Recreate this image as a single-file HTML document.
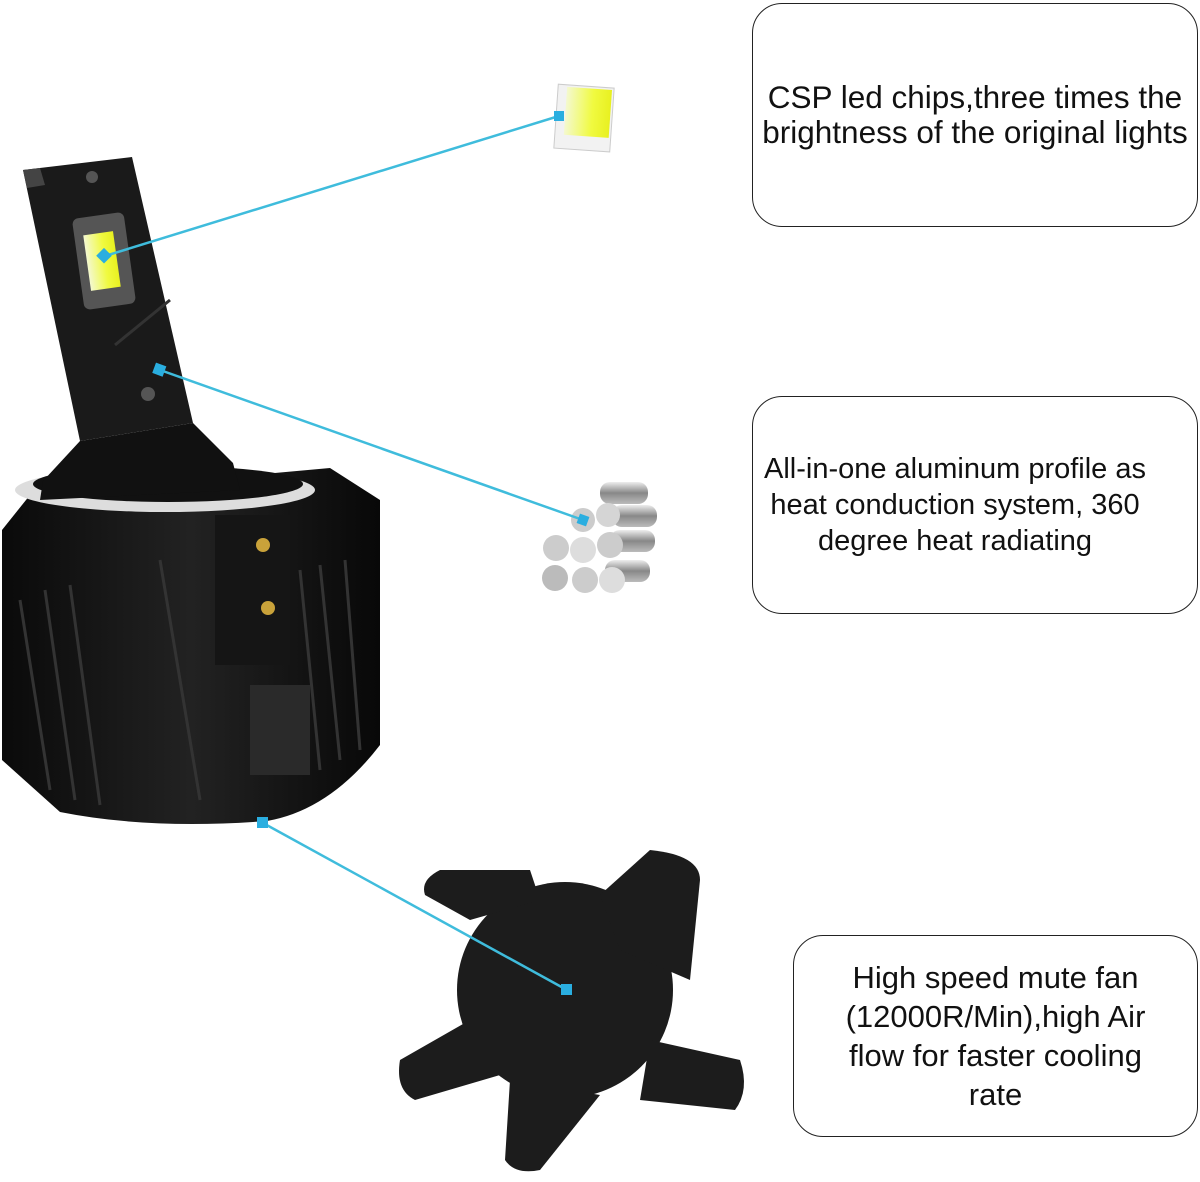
<!DOCTYPE html>
<html><head><style>
html,body{margin:0;padding:0;background:#fff;}
body{width:1200px;height:1182px;position:relative;overflow:hidden;font-family:"Liberation Sans",sans-serif;}
.box{position:absolute;border:1.5px solid #222;border-radius:30px;box-sizing:border-box;display:flex;align-items:center;justify-content:center;text-align:center;color:#111;white-space:nowrap;}
svg{position:absolute;left:0;top:0;}
</style></head><body>
<svg width="1200" height="1182" viewBox="0 0 1200 1182">
<defs>
<linearGradient id="bk" x1="0" x2="1"><stop offset="0" stop-color="#0a0a0a"/><stop offset="0.5" stop-color="#222"/><stop offset="1" stop-color="#080808"/></linearGradient>
<linearGradient id="chip" x1="0" x2="1"><stop offset="0" stop-color="#f4f9d0"/><stop offset="0.6" stop-color="#f0fa40"/><stop offset="1" stop-color="#e8f020"/></linearGradient>
<linearGradient id="rod" x1="0" x2="0" y1="0" y2="1"><stop offset="0" stop-color="#eee"/><stop offset="0.5" stop-color="#888"/><stop offset="1" stop-color="#bbb"/></linearGradient>
</defs>
<path d="M2,530 L30,495 L330,468 L380,500 L380,745 Q330,810 267,821 Q150,830 60,812 L2,760 Z" fill="url(#bk)"/>
<g stroke="#333" stroke-width="3">
<line x1="20" y1="600" x2="50" y2="790"/><line x1="45" y1="590" x2="75" y2="800"/><line x1="70" y1="585" x2="100" y2="805"/>
<line x1="300" y1="570" x2="320" y2="770"/><line x1="320" y1="565" x2="340" y2="760"/><line x1="345" y1="560" x2="360" y2="750"/>
<line x1="160" y1="560" x2="200" y2="800"/>
</g>
<rect x="215" y="515" width="75" height="150" fill="#151515"/>
<rect x="250" y="685" width="60" height="90" fill="#2a2a2a"/>
<circle cx="263" cy="545" r="7" fill="#c9a23a"/><circle cx="268" cy="608" r="7" fill="#c9a23a"/>
<ellipse cx="165" cy="490" rx="150" ry="22" fill="#ddd"/>
<ellipse cx="168" cy="484" rx="135" ry="18" fill="#111"/>
<path d="M43,481 L80,441 L193,423 L233,463 L240,490 L40,500 Z" fill="#111"/>
<path d="M23,170 L132,157 L193,423 L80,441 Z" fill="#1a1a1a"/>
<path d="M23,170 L40,168 L45,185 L27,188 Z" fill="#444"/>
<rect x="78" y="215" width="52" height="92" rx="6" fill="#555" transform="rotate(-8 104 261)"/>
<rect x="87" y="233" width="30" height="56" fill="url(#chip)" transform="rotate(-8 102 261)"/>
<line x1="115" y1="345" x2="170" y2="300" stroke="#333" stroke-width="3"/>
<circle cx="92" cy="177" r="6" fill="#555"/><circle cx="148" cy="394" r="7" fill="#555"/>
<g transform="rotate(4 583 118)"><rect x="556" y="86" width="56" height="64" fill="#f2f2f2" stroke="#ccc"/><rect x="565" y="88" width="45" height="48" fill="url(#chip)"/></g>
<g>
<rect x="600" y="482" width="48" height="22" rx="10" fill="url(#rod)"/>
<rect x="612" y="505" width="45" height="22" rx="10" fill="url(#rod)"/>
<rect x="610" y="530" width="45" height="22" rx="10" fill="url(#rod)"/>
<rect x="605" y="560" width="45" height="22" rx="10" fill="url(#rod)"/>
<circle cx="583" cy="520" r="12" fill="#ccc"/><circle cx="608" cy="515" r="12" fill="#d5d5d5"/>
<circle cx="556" cy="548" r="13" fill="#ccc"/><circle cx="583" cy="550" r="13" fill="#ddd"/><circle cx="610" cy="545" r="13" fill="#ccc"/>
<circle cx="555" cy="578" r="13" fill="#bbb"/><circle cx="585" cy="580" r="13" fill="#ccc"/><circle cx="612" cy="580" r="13" fill="#ddd"/>
</g>
<g fill="#1c1c1c">
<circle cx="565" cy="990" r="108"/>
<path d="M600,895 L650,850 Q700,855 700,880 L690,980 L620,950 Z"/>
<path d="M470,920 L425,895 Q420,880 440,870 L530,870 L540,900 Z"/>
<path d="M470,1020 L400,1060 Q395,1090 415,1100 L500,1075 Z"/>
<path d="M510,1080 L505,1160 Q515,1175 540,1170 L600,1095 Z"/>
<path d="M650,1040 L740,1060 Q750,1090 735,1110 L640,1100 Z"/>
</g>
<g stroke="#3fbcdc" stroke-width="2.5">
<line x1="105" y1="256" x2="559" y2="116"/>
<line x1="160" y1="370" x2="583" y2="520"/>
<line x1="263" y1="823" x2="567" y2="990"/>
</g>
<g fill="#2aaee0">
<rect x="99" y="250" width="11" height="11" transform="rotate(45 104 255)"/>
<rect x="554" y="111" width="10" height="10"/>
<rect x="154" y="364" width="11" height="11" transform="rotate(20 159 369)"/>
<rect x="578" y="515" width="10" height="10" transform="rotate(20 583 520)"/>
<rect x="257" y="817" width="11" height="11"/>
<rect x="561" y="984" width="11" height="11"/>
</g>
</svg>
<div class="box" style="left:752px;top:3px;width:446px;height:224px;font-size:31.5px;line-height:35px;">CSP led chips,three times the<br>brightness of the original lights</div>
<div class="box" style="left:752px;top:396px;width:446px;height:218px;font-size:29px;line-height:36px;padding-right:40px;">All-in-one aluminum profile as<br>heat conduction system, 360<br>degree heat radiating</div>
<div class="box" style="left:793px;top:935px;width:405px;height:202px;font-size:31px;line-height:39px;">High speed mute fan<br>(12000R/Min),high Air<br>flow for faster cooling<br>rate</div>
</body></html>
